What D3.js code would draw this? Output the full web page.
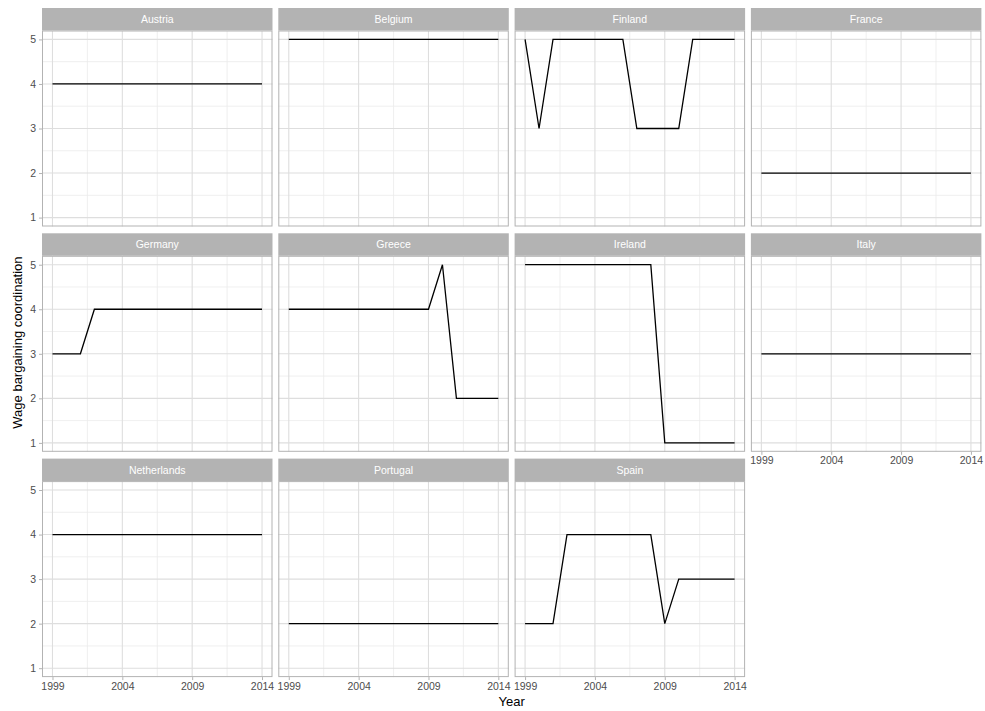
<!DOCTYPE html>
<html>
<head>
<meta charset="utf-8">
<script src="https://cdn.jsdelivr.net/npm/d3@7"></script>
<style>
  body { margin: 0; background: #fff; }
  svg { font-family: "Liberation Sans", Arial, sans-serif; }
</style>
</head>
<body>
<div id="chart"></div>
<script>
// years on the x axis
const years = d3.range(1999, 2015);
const xTicks = [1999, 2004, 2009, 2014];
const yTicks = [1, 2, 3, 4, 5];

const countries = ["Austria", "Belgium", "Finland", "France", "Germany", "Greece",
  "Ireland", "Italy", "Netherlands", "Portugal", "Spain"];

// wage bargaining coordination, 1999..2014
const austria     = [4,4,4,4,4,4,4,4,4,4,4,4,4,4,4,4];
const belgium     = [5,5,5,5,5,5,5,5,5,5,5,5,5,5,5,5];
const finland     = [5,3,5,5,5,5,5,5,3,3,3,3,5,5,5,5];
const france      = [2,2,2,2,2,2,2,2,2,2,2,2,2,2,2,2];
const germany     = [3,3,3,4,4,4,4,4,4,4,4,4,4,4,4,4];
const greece      = [4,4,4,4,4,4,4,4,4,4,4,5,2,2,2,2];
const ireland     = [5,5,5,5,5,5,5,5,5,5,1,1,1,1,1,1];
const italy       = [3,3,3,3,3,3,3,3,3,3,3,3,3,3,3,3];
const netherlands = [4,4,4,4,4,4,4,4,4,4,4,4,4,4,4,4];
const portugal    = [2,2,2,2,2,2,2,2,2,2,2,2,2,2,2,2];
const spain       = [2,2,2,4,4,4,4,4,4,4,2,3,3,3,3,3];

const values = [austria, belgium, finland, france, germany, greece,
  ireland, italy, netherlands, portugal, spain];

const W = 985, H = 711;
const left = 42, colStep = 236.3, pw = 230.5;
const top0 = 8, rowStep = 225.3, stripH = 22.5, ph = 196;
const ncol = 4;

const svg = d3.select("#chart").append("svg")
  .attr("width", W)
  .attr("height", H);

const x = d3.scaleLinear().domain([1999 - 0.75, 2014 + 0.75]).range([0, pw]);
const y = d3.scaleLinear().domain([0.8, 5.2]).range([ph, 0]);

const line = d3.line()
  .x(d => x(d.year))
  .y(d => y(d.value))
  .curve(d3.curveLinear);

countries.forEach(function(name, i) {
  const col = i % ncol, row = Math.floor(i / ncol);
  const px = left + col * colStep;
  const sy = top0 + row * rowStep;
  const py = sy + stripH;

  // strip
  svg.append("rect")
    .attr("x", px).attr("y", sy)
    .attr("width", pw).attr("height", stripH)
    .attr("fill", "#B3B3B3");
  svg.append("text")
    .attr("x", px + pw / 2).attr("y", sy + stripH / 2 + 3.8)
    .attr("text-anchor", "middle")
    .attr("font-size", "10.5px")
    .attr("fill", "#fff")
    .text(name);

  const g = svg.append("g").attr("transform", `translate(${px},${py})`);

  // minor grid
  [2001.5, 2006.5, 2011.5].forEach(v => {
    g.append("line").attr("x1", x(v)).attr("x2", x(v)).attr("y1", 0).attr("y2", ph)
      .attr("stroke", "#EBEBEB").attr("stroke-width", 0.8);
  });
  [1.5, 2.5, 3.5, 4.5].forEach(v => {
    g.append("line").attr("x1", 0).attr("x2", pw).attr("y1", y(v)).attr("y2", y(v))
      .attr("stroke", "#EBEBEB").attr("stroke-width", 0.8);
  });
  // major grid
  xTicks.forEach(v => {
    g.append("line").attr("x1", x(v)).attr("x2", x(v)).attr("y1", 0).attr("y2", ph)
      .attr("stroke", "#DEDEDE").attr("stroke-width", 1.1);
  });
  yTicks.forEach(v => {
    g.append("line").attr("x1", 0).attr("x2", pw).attr("y1", y(v)).attr("y2", y(v))
      .attr("stroke", "#DEDEDE").attr("stroke-width", 1.1);
  });

  const data = years.map((yr, j) => ({year: yr, value: values[i][j]}));
  g.append("path")
    .attr("d", line(data))
    .attr("fill", "none")
    .attr("stroke", "#000")
    .attr("stroke-width", 1.3);

  // panel border
  g.append("rect")
    .attr("x", 0.5).attr("y", 0.5).attr("width", pw - 1).attr("height", ph - 1)
    .attr("fill", "none").attr("stroke", "#B3B3B3").attr("stroke-width", 1);

  // y axis on first column
  if (col === 0) {
    const ya = g.append("g")
      .call(d3.axisLeft(y).tickValues(yTicks).tickFormat(d3.format("d")).tickSize(3).tickPadding(3));
    ya.select(".domain").remove();
    ya.selectAll(".tick line").attr("stroke", "#B3B3B3");
    ya.selectAll(".tick text").attr("fill", "#4D4D4D").attr("font-size", "10.5px")
      .attr("font-family", "Liberation Sans, Arial, sans-serif");
  }
  // x axis where no panel sits below
  const below = i + ncol;
  if (below >= countries.length) {
    const xa = g.append("g").attr("transform", `translate(0,${ph})`)
      .call(d3.axisBottom(x).tickValues(xTicks).tickFormat(d3.format("d")).tickSize(3).tickPadding(2));
    xa.select(".domain").remove();
    xa.selectAll(".tick line").attr("stroke", "#B3B3B3");
    xa.selectAll(".tick text").attr("fill", "#4D4D4D").attr("font-size", "10.5px")
      .attr("font-family", "Liberation Sans, Arial, sans-serif");
  }
});

// axis titles
svg.append("text")
  .attr("x", left + (3 * colStep + pw) / 2)
  .attr("y", 706)
  .attr("text-anchor", "middle")
  .attr("font-size", "13px")
  .attr("fill", "#000")
  .text("Year");

svg.append("text")
  .attr("transform", `translate(22,${top0 + (2 * rowStep + stripH + ph) / 2}) rotate(-90)`)
  .attr("text-anchor", "middle")
  .attr("font-size", "13px")
  .attr("fill", "#000")
  .text("Wage bargaining coordination");
</script>
</body>
</html>
